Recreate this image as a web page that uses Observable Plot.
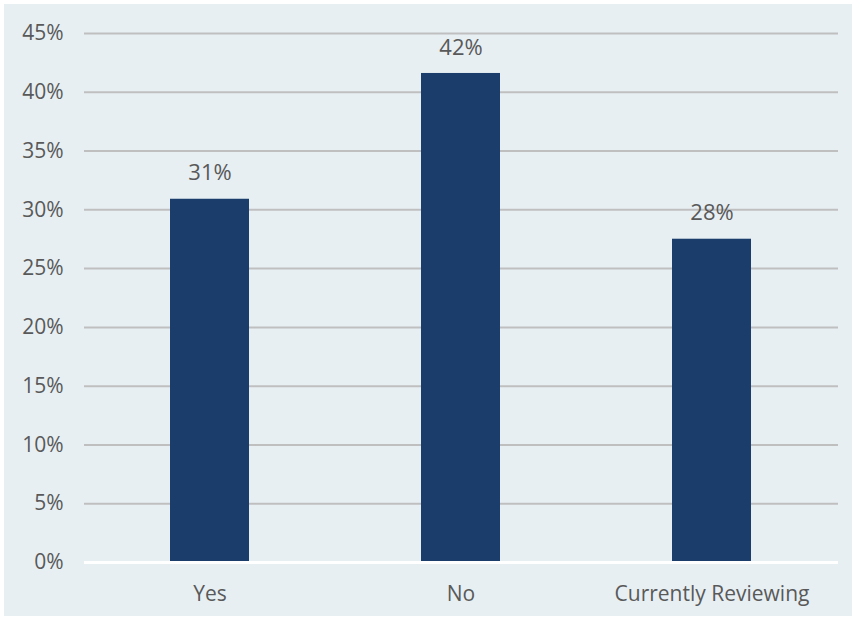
<!DOCTYPE html>
<html>
<head>
<meta charset="utf-8">
<script src="https://cdn.jsdelivr.net/npm/d3@7"></script>
<script src="https://cdn.jsdelivr.net/npm/@observablehq/plot@0.6"></script>
<style>
  html, body { margin: 0; padding: 0; background: #ffffff; }
  #wrap { padding: 4px; width: 848px; height: 612px; }
  svg { background: #e7eff3; display: block; }
</style>
</head>
<body>
<div id="wrap"></div>
<script>
const categories = ["Yes", "No", "Currently Reviewing"];
const values = [0.309, 0.416, 0.275];
const labels = ["31%", "42%", "28%"];
const yTicks = [0, 0.05, 0.10, 0.15, 0.20, 0.25, 0.30, 0.35, 0.40, 0.45];

const data = categories.map((c, i) => ({category: c, value: values[i], label: labels[i]}));
const grid = yTicks.filter(t => t > 0);

const chart = Plot.plot({
  width: 848,
  height: 612,
  marginLeft: 80,
  marginRight: 14,
  marginTop: 29,
  marginBottom: 54,
  style: {fontFamily: "'Open Sans', sans-serif", fontSize: "21px", color: "#595959", background: "#e7eff3"},
  x: {domain: categories, paddingInner: 0.685, paddingOuter: 0.3425, label: null},
  y: {domain: [0, 0.45], label: null},
  marks: [
    Plot.ruleY(grid, {stroke: "#bfbfbf", strokeWidth: 2}),
    Plot.barY(data, {x: "category", y: "value", fill: "#1a3d6b"}),
    Plot.ruleY([0], {stroke: "#ffffff", strokeWidth: 3}),
    Plot.text(data, {x: "category", y: "value", text: "label", dy: -26, fill: "#595959", fontSize: 22}),
    Plot.axisY({ticks: yTicks, tickFormat: d => Math.round(d * 100) + "%", tickSize: 0, tickPadding: 21, fontSize: 21, fill: "#595959", label: null}),
    Plot.axisX({tickSize: 0, tickPadding: 24, fontSize: 21, fill: "#595959", label: null})
  ]
});
document.getElementById("wrap").appendChild(chart);
</script>
</body>
</html>
